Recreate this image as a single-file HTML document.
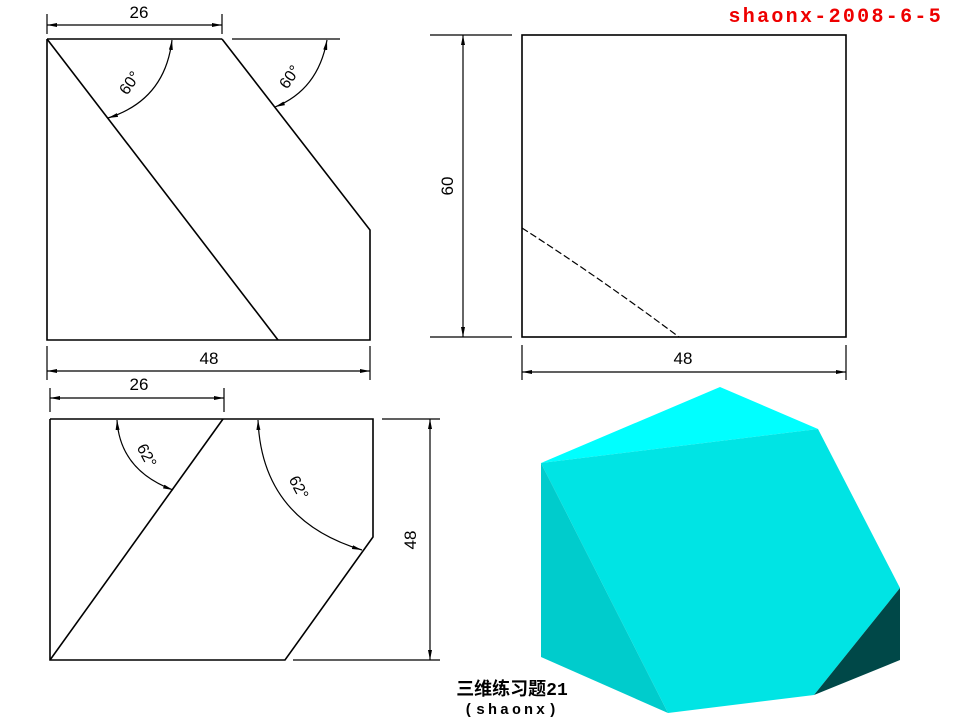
<!DOCTYPE html>
<html><head><meta charset="utf-8"><style>
html,body{margin:0;padding:0;background:#fff;width:960px;height:720px;overflow:hidden}
svg{display:block}
text{font-family:"Liberation Sans","Noto Sans CJK SC",sans-serif}
</style></head><body>
<svg width="960" height="720" viewBox="0 0 960 720">
<defs>
<marker id="ar" viewBox="0 0 10 6" refX="10" refY="3" markerWidth="10" markerHeight="6" orient="auto-start-reverse" markerUnits="userSpaceOnUse"><path d="M0,1 L10,3 L0,5 z" fill="#000"/></marker>
</defs>
<text x="943" y="22" text-anchor="end" fill="#e00" font-weight="bold" font-size="20" letter-spacing="2.3" style="font-family:'Liberation Mono',monospace">shaonx-2008-6-5</text>

<g stroke="#000" fill="none" stroke-width="1.6">
 <polyline points="47,39 222,39"/>
 <polyline points="47,39 47,340 370,340 370,230 222,39"/>
 <line x1="47" y1="39" x2="278" y2="340"/>
 <line x1="232" y1="39" x2="340" y2="39" stroke-width="1.2"/>
 <path d="M172,40 Q165,100 108,118" stroke-width="1.2" marker-start="url(#ar)" marker-end="url(#ar)"/>
 <path d="M327,40 Q318,90 275,107" stroke-width="1.2" marker-start="url(#ar)" marker-end="url(#ar)"/>
 <line x1="47" y1="14" x2="47" y2="34" stroke-width="1.2"/><line x1="222" y1="14" x2="222" y2="34" stroke-width="1.2"/>
 <line x1="47" y1="25" x2="222" y2="25" stroke-width="1.2" marker-start="url(#ar)" marker-end="url(#ar)"/>
 <line x1="47" y1="346" x2="47" y2="380" stroke-width="1.2"/><line x1="370" y1="346" x2="370" y2="380" stroke-width="1.2"/>
 <line x1="47" y1="371" x2="370" y2="371" stroke-width="1.2" marker-start="url(#ar)" marker-end="url(#ar)"/>
</g>
<text x="139" y="18" text-anchor="middle" font-size="17">26</text>
<text x="209" y="364" text-anchor="middle" font-size="17">48</text>
<text transform="translate(134,86) rotate(-55)" text-anchor="middle" font-size="16">60°</text>
<text transform="translate(294,80) rotate(-55)" text-anchor="middle" font-size="16">60°</text>

<g stroke="#000" fill="none" stroke-width="1.6">
 <rect x="522" y="35" width="324" height="302"/>
 <path d="M522,228 Q600,278 679,337" stroke-dasharray="7,3" stroke-width="1.2"/>
 <line x1="430" y1="35" x2="512" y2="35" stroke-width="1.2"/><line x1="430" y1="337" x2="512" y2="337" stroke-width="1.2"/>
 <line x1="463" y1="35" x2="463" y2="337" stroke-width="1.2" marker-start="url(#ar)" marker-end="url(#ar)"/>
 <line x1="522" y1="345" x2="522" y2="380" stroke-width="1.2"/><line x1="846" y1="345" x2="846" y2="380" stroke-width="1.2"/>
 <line x1="522" y1="372" x2="846" y2="372" stroke-width="1.2" marker-start="url(#ar)" marker-end="url(#ar)"/>
</g>
<text transform="translate(453,186) rotate(-90)" text-anchor="middle" font-size="17">60</text>
<text x="683" y="364" text-anchor="middle" font-size="17">48</text>

<g stroke="#000" fill="none" stroke-width="1.6">
 <polyline points="50,419 373,419 373,537 285,660 50,660 50,419"/>
 <line x1="50" y1="660" x2="223" y2="419"/>
 <line x1="293" y1="660" x2="440" y2="660" stroke-width="1.2"/>
 <line x1="382" y1="419" x2="440" y2="419" stroke-width="1.2"/>
 <line x1="430" y1="419" x2="430" y2="660" stroke-width="1.2" marker-start="url(#ar)" marker-end="url(#ar)"/>
 <line x1="50" y1="388" x2="50" y2="412" stroke-width="1.2"/><line x1="224" y1="388" x2="224" y2="412" stroke-width="1.2"/>
 <line x1="50" y1="398" x2="224" y2="398" stroke-width="1.2" marker-start="url(#ar)" marker-end="url(#ar)"/>
 <path d="M117,420 Q120,470 173,490" stroke-width="1.2" marker-start="url(#ar)" marker-end="url(#ar)"/>
 <path d="M258,420 Q262,520 362,550" stroke-width="1.2" marker-start="url(#ar)" marker-end="url(#ar)"/>
</g>
<text x="139" y="390" text-anchor="middle" font-size="17">26</text>
<text transform="translate(416,540) rotate(-90)" text-anchor="middle" font-size="17">48</text>
<text transform="translate(142,458) rotate(62)" text-anchor="middle" font-size="16">62°</text>
<text transform="translate(294,490) rotate(62)" text-anchor="middle" font-size="16">62°</text>

<g>
 <polygon points="720,387 818,429 541,463" fill="#00ffff"/>
 <polygon points="541,463 818,429 900,588 814,695 668,713" fill="#00e4e4"/>
 <polygon points="541,463 668,713 541,657" fill="#00cccc"/>
 <polygon points="900,588 900,660 814,695" fill="#004848"/>
</g>
<text x="512" y="695" text-anchor="middle" font-size="18" font-weight="bold" style="font-family:'Liberation Mono','Noto Sans CJK SC',monospace">三维练习题21</text>
<text x="512" y="714" text-anchor="middle" font-size="15" font-weight="bold" letter-spacing="3" style="font-family:'Liberation Mono',monospace">(shaonx)</text>
</svg>
</body></html>
